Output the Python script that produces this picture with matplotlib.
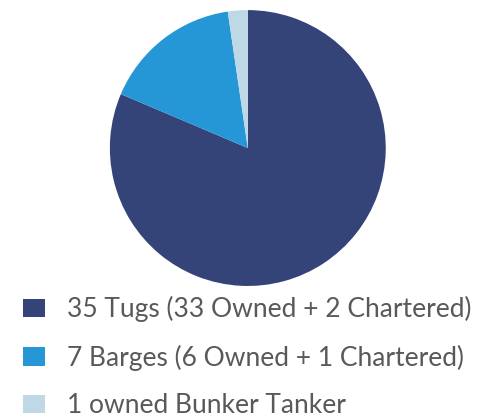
import matplotlib.pyplot as plt

labels = ['35 Tugs (33 Owned + 2 Chartered)',
          '7 Barges (6 Owned + 1 Chartered)',
          '1 owned Bunker Tanker']
counts = [35, 7, 1]
colors = ['#344479', '#2597D6', '#BFD8E6']

fig = plt.figure(figsize=(4.84, 4.17), dpi=100)
ax = fig.add_axes([0.227, 0.314, 0.570, 0.662])

wedges, _ = ax.pie(counts, colors=colors, startangle=90, counterclock=False,
                   wedgeprops={'linewidth': 0})
ax.set_xlim(-1, 1)
ax.set_ylim(-1, 1)
ax.set_aspect('equal')

leg = fig.legend(wedges, labels, loc='upper left',
                 bbox_to_anchor=(23 / 484, 1 - 296 / 417),
                 frameon=False, borderpad=0, borderaxespad=0,
                 handlelength=0.85, handleheight=0.7, handletextpad=0.8,
                 labelspacing=0.85,
                 prop={'family': 'Lato', 'size': 19})
for t in leg.get_texts():
    t.set_color('#595959')

fig.savefig('out.png', dpi=100)
